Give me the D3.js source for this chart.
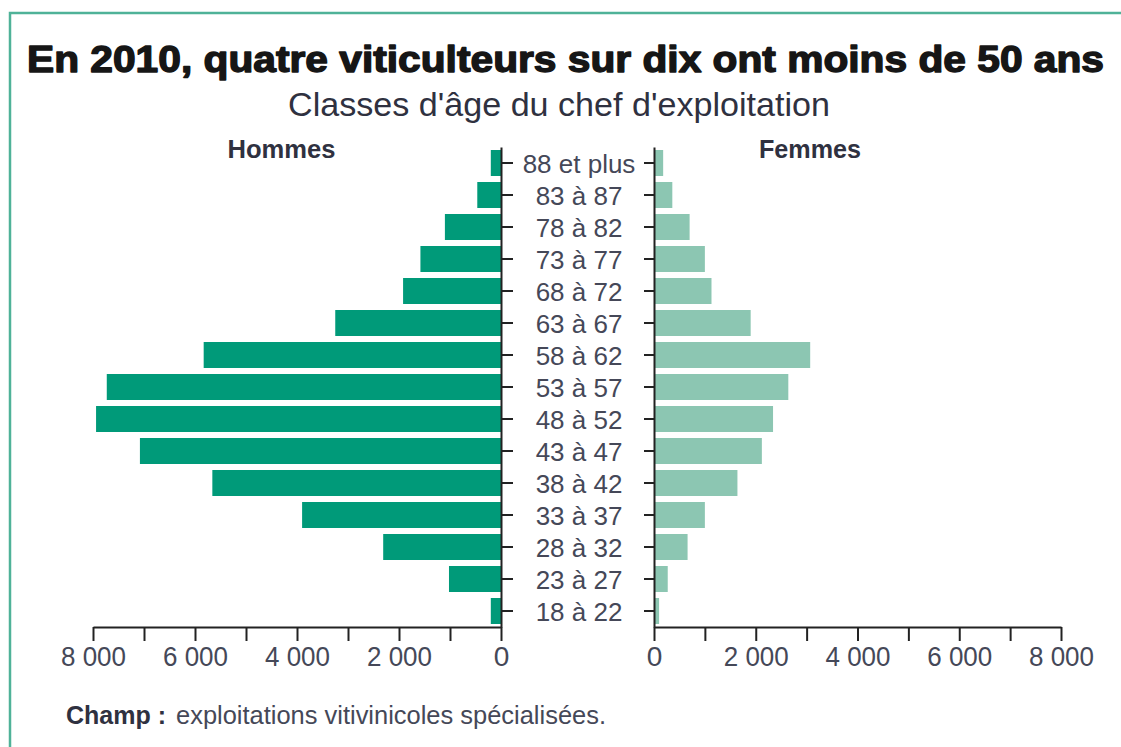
<!DOCTYPE html>
<html lang="fr">
<head>
<meta charset="utf-8">
<script src="https://cdn.jsdelivr.net/npm/d3@7"></script>
<style>
  html, body { margin: 0; padding: 0; background: #fff; }
  svg { display: block; font-family: "Liberation Sans", Arial, sans-serif; }
</style>
</head>
<body>
<svg id="chart" width="1121" height="747"></svg>
<script>
// Classes d'âge du chef d'exploitation (du plus âgé au plus jeune)
const ageClasses = ["88 et plus", "83 à 87", "78 à 82", "73 à 77", "68 à 72", "63 à 67",
  "58 à 62", "53 à 57", "48 à 52", "43 à 47", "38 à 42", "33 à 37", "28 à 32", "23 à 27", "18 à 22"];

// Nombre de chefs d'exploitation par classe d'âge
const hommes = [200, 465, 1100, 1580, 1920, 3250, 5830, 7730, 7940, 7080, 5660, 3900, 2310, 1020, 200];
const femmes = [180, 360, 700, 1000, 1130, 1900, 3070, 2640, 2340, 2120, 1640, 1000, 660, 270, 100];

// Graduations des axes horizontaux
const tickValues = [0, 1000, 2000, 3000, 4000, 5000, 6000, 7000, 8000];
const tickLabels = ["0", "", "2 000", "", "4 000", "", "6 000", "", "8 000"];

const svg = d3.select("#chart");
const ink = "#2f3140";
const colHommes = "#009a79";
const colFemmes = "#8cc6b2";

// Cadre vert
svg.append("path")
  .attr("d", "M10,760 L10,13 L1130,13")
  .attr("fill", "none")
  .attr("stroke", "#4fb298")
  .attr("stroke-width", 2.5);

// Adjust a text element to a given rendered width
function fitWidth(sel, w) {
  sel.attr("textLength", w).attr("lengthAdjust", "spacingAndGlyphs");
}

// Titre
svg.append("text")
  .attr("x", 27).attr("y", 72)
  .attr("font-size", 37).attr("font-weight", 900)
  .attr("fill", "#161616").attr("stroke", "#161616").attr("stroke-width", 1.4)
  .attr("stroke-linejoin", "round")
  .text("En 2010, quatre viticulteurs sur dix ont moins de 50 ans")
  .call(fitWidth, 1077);

// Sous-titre
svg.append("text")
  .attr("x", 288).attr("y", 116)
  .attr("font-size", 33).attr("fill", ink)
  .text("Classes d'âge du chef d'exploitation")
  .call(fitWidth, 542);

// Échelles
const y = d3.scaleBand()
  .domain(ageClasses)
  .range([147, 627])
  .paddingInner(0.1875)
  .paddingOuter(0.09375);

const xL = d3.scaleLinear().domain([0, 8000]).range([501, 93]);
const xR = d3.scaleLinear().domain([0, 8000]).range([654, 1061]);

// Barres hommes
svg.append("g").selectAll("rect")
  .data(hommes)
  .join("rect")
  .attr("x", d => xL(d))
  .attr("y", (d, i) => y(ageClasses[i]))
  .attr("width", d => xL(0) - xL(d))
  .attr("height", y.bandwidth())
  .attr("fill", colHommes);

// Barres femmes
svg.append("g").selectAll("rect")
  .data(femmes)
  .join("rect")
  .attr("x", xR(0))
  .attr("y", (d, i) => y(ageClasses[i]))
  .attr("width", d => xR(d) - xR(0))
  .attr("height", y.bandwidth())
  .attr("fill", colFemmes);

// Axes verticaux (sans libellés)
const axisY = 627;
const vL = svg.append("g")
  .attr("transform", `translate(${xL(0)},0)`)
  .call(d3.axisRight(y).tickSize(12).tickSizeOuter(0).tickFormat(""));
const vR = svg.append("g")
  .attr("transform", `translate(${xR(0)},0)`)
  .call(d3.axisLeft(y).tickSize(10).tickSizeOuter(0).tickFormat(""));

// Axes horizontaux
const fmt = (d) => tickLabels[tickValues.indexOf(d)];
const hL = svg.append("g")
  .attr("transform", `translate(0,${axisY})`)
  .call(d3.axisBottom(xL).tickValues(tickValues).tickSize(14).tickSizeOuter(0).tickPadding(5).tickFormat(fmt));
const hR = svg.append("g")
  .attr("transform", `translate(0,${axisY})`)
  .call(d3.axisBottom(xR).tickValues(tickValues).tickSize(14).tickSizeOuter(0).tickPadding(5).tickFormat(fmt));

[vL, vR, hL, hR].forEach(g => {
  g.select(".domain").attr("stroke", "#222").attr("stroke-width", 2);
  g.selectAll(".tick line").attr("stroke", "#222").attr("stroke-width", 2);
  g.selectAll(".tick text")
    .attr("font-family", "'Liberation Sans', Arial, sans-serif")
    .attr("font-size", 28)
    .attr("fill", "#454858");
});
[hL, hR].forEach(g => {
  g.selectAll(".tick text").each(function () {
    const t = d3.select(this);
    if (t.text().length > 1) t.call(fitWidth, 65);
  });
});

// Libellés des classes d'âge, au centre
svg.append("g").selectAll("text")
  .data(ageClasses)
  .join("text")
  .attr("x", 579)
  .attr("y", d => y(d) + y.bandwidth() / 2 + 9.5)
  .attr("text-anchor", "middle")
  .attr("font-size", 26)
  .attr("fill", "#454858")
  .text(d => d);

// En-têtes Hommes / Femmes
svg.append("text")
  .attr("x", 281.5).attr("y", 158)
  .attr("text-anchor", "middle")
  .attr("font-size", 25).attr("font-weight", 700)
  .attr("fill", ink)
  .text("Hommes")
  .call(fitWidth, 108);
svg.append("text")
  .attr("x", 810).attr("y", 158)
  .attr("text-anchor", "middle")
  .attr("font-size", 25).attr("font-weight", 700)
  .attr("fill", ink)
  .text("Femmes")
  .call(fitWidth, 102);

// Champ
svg.append("text")
  .attr("x", 66).attr("y", 724)
  .attr("font-size", 25).attr("font-weight", 700)
  .attr("fill", ink)
  .text("Champ :")
  .call(fitWidth, 100);
svg.append("text")
  .attr("x", 176).attr("y", 724)
  .attr("font-size", 25)
  .attr("fill", "#454858")
  .text("exploitations vitivinicoles spécialisées.")
  .call(fitWidth, 430);
</script>
</body>
</html>
